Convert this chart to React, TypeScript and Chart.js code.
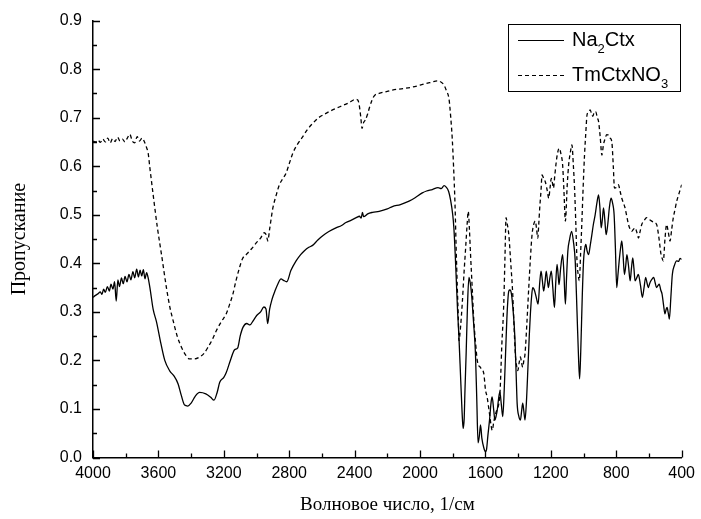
import React, { useEffect, useRef } from "react";
import { Chart, registerables } from "chart.js";

Chart.register(...registerables);

const solidWn = [4000,3985,3970,3955,3945,3935,3925,3912,3900,3890,3878,3868,3858,3848,3838,3826,3815,3804,3792,3780,3768,3756,3745,3733,3722,3712,3702,3692,3682,3672,3664,3652,3632,3612,3585,3561,3530,3505,3480,3460,3440,3420,3400,3375,3348,3310,3280,3260,3240,3225,3200,3185,3160,3134,3115,3100,3083,3060,3040,3020,3000,2975,2955,2942,2932,2920,2905,2885,2870,2850,2835,2815,2790,2758,2730,2707,2680,2657,2625,2595,2560,2514,2480,2453,2420,2390,2370,2360,2352,2345,2320,2290,2250,2200,2169,2120,2067,2030,1986,1960,1925,1890,1870,1853,1840,1825,1813,1800,1793,1785,1778,1770,1762,1750,1740,1736,1730,1725,1718,1710,1701,1693,1685,1673,1661,1653,1645,1637,1630,1622,1610,1600,1594,1585,1575,1565,1559,1550,1542,1535,1528,1520,1512,1503,1494,1485,1477,1467,1457,1450,1441,1430,1420,1412,1406,1396,1386,1379,1372,1365,1358,1350,1339,1332,1325,1318,1311,1305,1299,1288,1278,1268,1260,1252,1244,1236,1228,1220,1215,1206,1197,1188,1178,1170,1162,1155,1150,1140,1128,1120,1111,1104,1096,1085,1073,1062,1051,1040,1030,1024,1017,1008,1000,993,986,978,969,960,949,940,929,918,908,900,892,885,878,870,862,852,842,832,823,813,805,797,790,782,774,766,758,750,742,735,725,715,707,699,692,685,675,665,652,640,630,620,612,604,596,588,580,571,562,554,545,537,528,520,511,502,495,489,482,475,466,457,445,430,418,410,400];
const solidVal = [0.330,0.334,0.337,0.341,0.336,0.347,0.340,0.352,0.343,0.357,0.347,0.362,0.322,0.366,0.352,0.370,0.358,0.373,0.362,0.377,0.366,0.383,0.370,0.388,0.372,0.386,0.374,0.387,0.368,0.381,0.372,0.350,0.305,0.280,0.235,0.200,0.178,0.168,0.152,0.128,0.108,0.106,0.112,0.126,0.134,0.131,0.124,0.118,0.135,0.155,0.165,0.175,0.200,0.222,0.226,0.250,0.268,0.276,0.273,0.282,0.292,0.300,0.310,0.306,0.276,0.305,0.326,0.345,0.357,0.368,0.365,0.362,0.385,0.405,0.418,0.426,0.433,0.437,0.448,0.457,0.465,0.473,0.478,0.484,0.489,0.494,0.497,0.493,0.505,0.496,0.502,0.505,0.507,0.512,0.517,0.521,0.528,0.535,0.545,0.549,0.552,0.556,0.554,0.560,0.557,0.548,0.530,0.500,0.473,0.420,0.364,0.300,0.248,0.150,0.075,0.060,0.080,0.140,0.214,0.310,0.371,0.360,0.337,0.280,0.214,0.120,0.030,0.045,0.067,0.040,0.020,0.012,0.015,0.045,0.077,0.115,0.125,0.100,0.077,0.085,0.097,0.120,0.135,0.110,0.084,0.140,0.213,0.300,0.343,0.345,0.337,0.300,0.248,0.170,0.111,0.085,0.077,0.095,0.112,0.095,0.077,0.110,0.194,0.250,0.296,0.330,0.350,0.348,0.343,0.328,0.316,0.360,0.384,0.365,0.343,0.360,0.384,0.362,0.350,0.370,0.384,0.350,0.309,0.360,0.398,0.375,0.356,0.390,0.418,0.380,0.316,0.370,0.425,0.450,0.466,0.445,0.405,0.300,0.200,0.162,0.220,0.330,0.405,0.430,0.439,0.425,0.418,0.435,0.459,0.480,0.500,0.525,0.541,0.515,0.473,0.490,0.514,0.490,0.459,0.480,0.515,0.534,0.525,0.500,0.430,0.350,0.375,0.405,0.430,0.446,0.415,0.377,0.395,0.418,0.395,0.364,0.390,0.411,0.390,0.364,0.370,0.377,0.355,0.330,0.350,0.371,0.360,0.350,0.358,0.364,0.368,0.371,0.360,0.350,0.354,0.357,0.345,0.337,0.315,0.296,0.305,0.309,0.298,0.285,0.330,0.377,0.395,0.405,0.404,0.410,0.408];

const dashWn = [4000,3985,3970,3955,3940,3925,3910,3895,3880,3865,3850,3835,3820,3805,3790,3775,3760,3745,3730,3715,3700,3685,3672,3663,3652,3632,3606,3581,3551,3530,3510,3485,3459,3435,3409,3380,3348,3320,3297,3270,3246,3215,3185,3165,3145,3125,3104,3085,3063,3030,3002,2975,2952,2940,2931,2920,2900,2880,2860,2840,2819,2800,2778,2750,2717,2690,2657,2620,2575,2535,2494,2440,2392,2380,2372,2362,2355,2345,2335,2320,2311,2295,2280,2250,2200,2169,2100,2047,2000,1966,1930,1894,1870,1853,1838,1823,1812,1803,1795,1786,1779,1772,1766,1762,1752,1742,1731,1721,1712,1705,1698,1691,1681,1671,1660,1650,1630,1610,1600,1590,1575,1565,1559,1548,1538,1528,1518,1510,1500,1488,1480,1474,1466,1457,1445,1433,1425,1417,1410,1402,1394,1386,1379,1372,1365,1358,1346,1335,1325,1315,1305,1295,1287,1280,1274,1268,1260,1254,1244,1234,1222,1213,1205,1197,1190,1184,1176,1169,1160,1149,1138,1128,1120,1111,1100,1091,1080,1071,1062,1055,1047,1040,1032,1026,1018,1010,1002,994,986,979,969,959,951,943,934,925,916,908,898,888,878,868,858,847,837,827,818,811,800,787,776,766,756,746,735,725,715,705,695,685,675,664,654,644,630,614,598,583,568,553,540,526,519,512,502,492,482,471,461,451,440,430,415,400];
const dashVal = [0.652,0.650,0.654,0.649,0.656,0.650,0.658,0.648,0.657,0.651,0.660,0.652,0.656,0.650,0.658,0.666,0.652,0.648,0.661,0.652,0.658,0.650,0.638,0.628,0.596,0.541,0.473,0.418,0.350,0.310,0.282,0.250,0.227,0.212,0.203,0.203,0.207,0.215,0.227,0.243,0.261,0.280,0.296,0.315,0.336,0.365,0.391,0.410,0.418,0.430,0.442,0.452,0.463,0.458,0.446,0.470,0.514,0.540,0.562,0.574,0.586,0.605,0.627,0.645,0.661,0.675,0.688,0.700,0.709,0.716,0.722,0.730,0.738,0.736,0.726,0.700,0.678,0.690,0.695,0.708,0.719,0.735,0.745,0.750,0.754,0.757,0.760,0.763,0.767,0.770,0.773,0.776,0.773,0.767,0.755,0.739,0.700,0.657,0.600,0.521,0.430,0.350,0.290,0.241,0.270,0.316,0.380,0.432,0.480,0.507,0.470,0.418,0.350,0.282,0.235,0.200,0.185,0.173,0.140,0.125,0.090,0.065,0.056,0.075,0.090,0.100,0.111,0.140,0.230,0.316,0.420,0.494,0.480,0.459,0.400,0.336,0.270,0.213,0.190,0.179,0.195,0.207,0.195,0.186,0.200,0.213,0.280,0.350,0.410,0.459,0.480,0.487,0.470,0.452,0.480,0.514,0.550,0.582,0.575,0.568,0.550,0.534,0.555,0.575,0.565,0.555,0.580,0.603,0.625,0.637,0.625,0.603,0.550,0.487,0.560,0.603,0.630,0.644,0.600,0.555,0.480,0.405,0.375,0.364,0.420,0.487,0.560,0.623,0.670,0.705,0.712,0.716,0.708,0.703,0.712,0.712,0.700,0.692,0.660,0.623,0.645,0.657,0.665,0.664,0.658,0.650,0.600,0.555,0.556,0.562,0.548,0.534,0.524,0.514,0.496,0.480,0.470,0.466,0.470,0.473,0.465,0.452,0.466,0.480,0.488,0.494,0.490,0.487,0.484,0.480,0.455,0.418,0.410,0.405,0.450,0.480,0.465,0.446,0.470,0.494,0.512,0.528,0.545,0.562];

const seriesNames = ["Na2Ctx", "TmCtxNO3"];
const X_MIN = 400;
const X_MAX = 4000;
const Y_MIN = 0;
const Y_MAX = 0.9;

const sansFont = "'Liberation Sans', Arial, sans-serif";
const serifFont = "'Liberation Serif', 'Times New Roman', serif";

function toPoints(xs: number[], ys: number[]) {
  return xs.map((x, i) => ({ x, y: ys[i] }));
}

const innerTicks = {
  id: "innerTicks",
  afterDraw(chart: any) {
    const { ctx, chartArea, scales } = chart;
    const xs = scales.x;
    const ys = scales.y;
    ctx.save();
    ctx.strokeStyle = "#000";
    ctx.lineWidth = 1.3;
    ctx.beginPath();
    for (let v = X_MIN; v <= X_MAX; v += 200) {
      const px = Math.round(xs.getPixelForValue(v)) + 0.5;
      const len = v % 400 === 0 ? 7 : 4;
      ctx.moveTo(px, chartArea.bottom);
      ctx.lineTo(px, chartArea.bottom - len);
    }
    for (let i = 0; i <= 18; i++) {
      const v = i * 0.05;
      const py = Math.round(ys.getPixelForValue(v)) + 0.5;
      const len = i % 2 === 0 ? 7 : 4;
      ctx.moveTo(chartArea.left, py);
      ctx.lineTo(chartArea.left + len, py);
    }
    ctx.stroke();
    ctx.restore();
  },
};

const boxLegend = {
  id: "boxLegend",
  afterDraw(chart: any) {
    const { ctx } = chart;
    ctx.save();
    ctx.strokeStyle = "#000";
    ctx.lineWidth = 1;
    ctx.strokeRect(508.5, 24.5, 172, 67);
    const rows = [
      { base: "Na", sub: "2", rest: "Ctx", dash: [] as number[], y: 40 },
      { base: "TmCtxNO", sub: "3", rest: "", dash: [4, 3], y: 75 },
    ];
    for (const r of rows) {
      ctx.setLineDash(r.dash);
      ctx.lineWidth = 1.2;
      ctx.beginPath();
      ctx.moveTo(518, r.y + 0.5);
      ctx.lineTo(564, r.y + 0.5);
      ctx.stroke();
      ctx.setLineDash([]);
      ctx.fillStyle = "#000";
      ctx.textBaseline = "middle";
      ctx.textAlign = "left";
      let x = 572;
      ctx.font = `20px ${sansFont}`;
      ctx.fillText(r.base, x, r.y);
      x += ctx.measureText(r.base).width;
      ctx.font = `13px ${sansFont}`;
      ctx.fillText(r.sub, x, r.y + 9);
      x += ctx.measureText(r.sub).width;
      if (r.rest) {
        ctx.font = `20px ${sansFont}`;
        ctx.fillText(r.rest, x, r.y);
      }
    }
    ctx.restore();
  },
};

export default function App() {
  const ref = useRef<HTMLCanvasElement | null>(null);
  useEffect(() => {
    document.body.style.margin = "0";
    document.body.style.overflow = "hidden";
    const canvas = ref.current;
    if (!canvas) return;
    const chart = new Chart(canvas, {
      type: "line",
      data: {
        datasets: [
          {
            label: seriesNames[0],
            data: toPoints(solidWn, solidVal),
            borderColor: "#000",
            borderWidth: 1.3,
            pointRadius: 0,
            fill: false,
            cubicInterpolationMode: "monotone",
          },
          {
            label: seriesNames[1],
            data: toPoints(dashWn, dashVal),
            borderColor: "#000",
            borderWidth: 1.3,
            borderDash: [4, 3],
            pointRadius: 0,
            fill: false,
            cubicInterpolationMode: "monotone",
          },
        ],
      },
      options: {
        responsive: false,
        animation: false,
        devicePixelRatio: 1,
        layout: { padding: { top: 20, right: 17, bottom: 0, left: 0 } },
        plugins: { legend: { display: false }, tooltip: { enabled: false } },
        scales: {
          x: {
            type: "linear",
            reverse: true,
            min: X_MIN,
            max: X_MAX,
            grid: { display: false, drawTicks: false },
            border: { display: true, color: "#000", width: 1.5 },
            ticks: {
              stepSize: 400,
              color: "#000",
              padding: 6,
              font: { family: sansFont, size: 16 },
              callback: (v: any) => String(v),
            },
            title: {
              display: true,
              text: "Волновое число, 1/см",
              color: "#000",
              font: { family: serifFont, size: 19 },
              padding: { top: 0, bottom: 3 },
            },
            afterFit: (s: any) => {
              s.height = 61.5;
            },
          },
          y: {
            min: Y_MIN,
            max: Y_MAX,
            grid: { display: false, drawTicks: false },
            border: { display: true, color: "#000", width: 1.5 },
            ticks: {
              stepSize: 0.1,
              color: "#000",
              padding: 11,
              font: { family: sansFont, size: 16 },
              callback: (v: any) => Number(v).toFixed(1),
            },
            title: {
              display: true,
              text: "Пропускание",
              color: "#000",
              font: { family: serifFont, size: 20 },
              padding: { top: 8, bottom: 0 },
            },
            afterFit: (s: any) => {
              s.width = 93;
            },
          },
        },
      },
      plugins: [innerTicks, boxLegend],
    });
    return () => chart.destroy();
  }, []);
  return <canvas ref={ref} width={701} height={519} style={{ display: "block", width: 701, height: 519 }} />;
}
